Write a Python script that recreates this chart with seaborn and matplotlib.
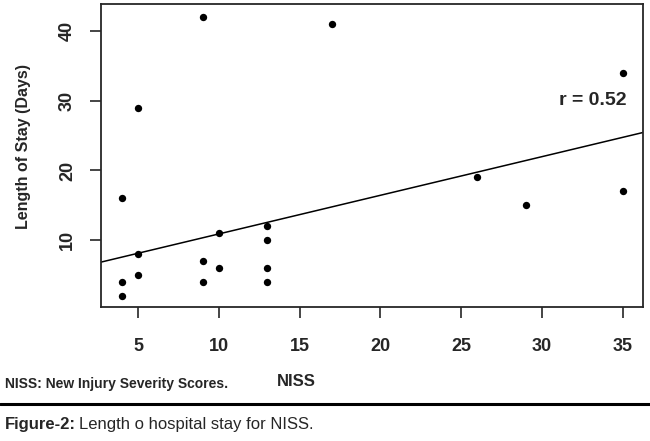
import pandas as pd
import matplotlib
matplotlib.use("Agg")
import matplotlib.pyplot as plt
import seaborn as sns

# Data
niss = [4, 4, 4, 5, 5, 5, 9, 9, 9, 10, 10, 13, 13, 13, 13, 17, 26, 29, 35, 35]
stay = [16, 4, 2, 29, 8, 5, 42, 7, 4, 11, 6, 12, 10, 6, 4, 41, 19, 15, 34, 17]
x_ticks = [5, 10, 15, 20, 25, 30, 35]
y_ticks = [10, 20, 30, 40]

# fitted line as printed in the figure
fit_intercept = 5.34
fit_slope = 0.555

df = pd.DataFrame({"NISS": niss, "stay": stay})

sns.set_style("ticks")
plt.rcParams['font.family'] = ['Liberation Sans', 'DejaVu Sans']

fig = plt.figure(figsize=(6.5, 4.41), dpi=100)
ax = fig.add_axes([101 / 650, 1 - 307 / 441, 542 / 650, 303 / 441])

sns.scatterplot(data=df, x="NISS", y="stay", ax=ax, s=28, color="black",
                linewidth=0)
ax.axline((0, fit_intercept), slope=fit_slope, color="black", lw=1.1)

ax.set_xlim(2.71, 36.24)
ax.set_ylim(0.4, 43.9)
ax.set_xticks(x_ticks)
ax.set_yticks(y_ticks)
ax.tick_params(axis="both", direction="out", length=8, width=1.2, labelsize=13)
ax.tick_params(axis="x", pad=14)
ax.tick_params(axis="y", pad=10, labelrotation=90)
for lab in ax.get_xticklabels() + ax.get_yticklabels():
    lab.set_fontweight("bold")
for lab in ax.get_yticklabels():
    lab.set_verticalalignment("center")
for sp in ax.spines.values():
    sp.set_visible(True)
    sp.set_linewidth(1.3)

ax.set_xlabel("")
ax.set_ylabel("Length of Stay (Days)", fontsize=11.5, fontweight="bold", labelpad=20)
ax.yaxis.label.set_y(0.53)
fig.text(296 / 650, 1 - 382 / 441, "NISS", fontsize=12, fontweight="bold",
         ha="center", va="center")

ax.text(35.2, 30.1, "r = 0.52", fontsize=14, fontweight="bold", ha="right", va="center")

# footnote, rule and caption
fig.text(5 / 650, 1 - 384 / 441, "NISS: New Injury Severity Scores.", fontsize=10,
         fontweight="bold", ha="left", va="center")
fig.add_artist(plt.Line2D([0, 1], [1 - 404 / 441, 1 - 404 / 441], color="black",
                          lw=2.2, transform=fig.transFigure))
t1 = fig.text(5 / 650, 1 - 425 / 441, "Figure-2:", fontsize=12, fontweight="bold",
              ha="left", va="center")
fig.canvas.draw()
bb = t1.get_window_extent().transformed(fig.transFigure.inverted())
fig.text(bb.x1 + 3 / 650, 1 - 425 / 441, "Length o hospital stay for NISS.",
         fontsize=12, ha="left", va="center")

fig.savefig("out.png", dpi=100)
